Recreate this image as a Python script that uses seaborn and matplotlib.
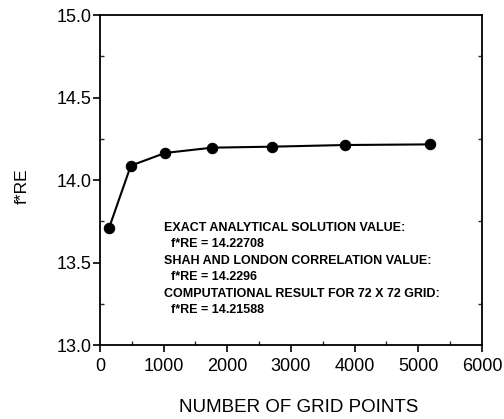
import numpy as np
import pandas as pd
import matplotlib
matplotlib.use("Agg")
import matplotlib.pyplot as plt
from matplotlib.ticker import MultipleLocator
import seaborn as sns

# Grid-convergence study: friction factor * Reynolds number vs grid size
grid_points = [144, 484, 1024, 1764, 2704, 3844, 5184]
f_re = [13.711, 14.087, 14.164, 14.196, 14.202, 14.212, 14.21588]

x_ticks = [0, 1000, 2000, 3000, 4000, 5000, 6000]
y_ticks = [13.0, 13.5, 14.0, 14.5, 15.0]

note_lines = [
    "EXACT ANALYTICAL SOLUTION VALUE:",
    "  f*RE = 14.22708",
    "SHAH AND LONDON CORRELATION VALUE:",
    "  f*RE = 14.2296",
    "COMPUTATIONAL RESULT FOR 72 X 72 GRID:",
    "  f*RE = 14.21588",
]

sns.set_style("ticks")
plt.rcParams["font.family"] = ["Liberation Sans", "DejaVu Sans"]
plt.rcParams["text.color"] = "black"
plt.rcParams["axes.labelcolor"] = "black"

df = pd.DataFrame({"grid": grid_points, "fre": f_re})

fig = plt.figure(figsize=(5.04, 4.19), dpi=100)
ax = fig.add_axes([100 / 504, 1 - 345 / 419, 382 / 504, 330 / 419])

sns.lineplot(data=df, x="grid", y="fre", ax=ax, color="black", linewidth=1.5,
             marker="o", markersize=7.5, markeredgecolor="black",
             markerfacecolor="black")

ax.set_xlim(0, 6000)
ax.set_ylim(13.0, 15.0)
ax.set_xticks(x_ticks)
ax.set_xticklabels([str(v) for v in x_ticks])
ax.set_yticks(y_ticks)
ax.set_yticklabels([f"{v:.1f}" for v in y_ticks])
ax.xaxis.set_minor_locator(MultipleLocator(500))
ax.yaxis.set_minor_locator(MultipleLocator(0.25))

for s in ax.spines.values():
    s.set_linewidth(1.3)
    s.set_color("black")

ax.tick_params(axis="both", which="major", direction="out", length=5, width=1.2,
               labelsize=13, colors="black")
ax.tick_params(axis="x", which="major", pad=4)
ax.tick_params(axis="y", which="major", pad=1)
ax.tick_params(axis="both", which="minor", direction="in", length=3, width=1.0,
               right=True)

ax.set_xlabel("NUMBER OF GRID POINTS", fontsize=13.5, color="black")
ax.set_ylabel("f*RE", fontsize=12.5, color="black")
ax.xaxis.set_label_coords(0.52, -0.165)
ax.yaxis.set_label_coords(-0.184, 0.48)

y0 = 13.71
for i, line in enumerate(note_lines):
    ax.text(1000, y0 - i * 0.1, line, fontsize=9.0, va="center", ha="left",
            color="black", fontweight="bold",
            family=["Liberation Sans Narrow", "Liberation Sans"])

fig.savefig("out.png", dpi=100)
